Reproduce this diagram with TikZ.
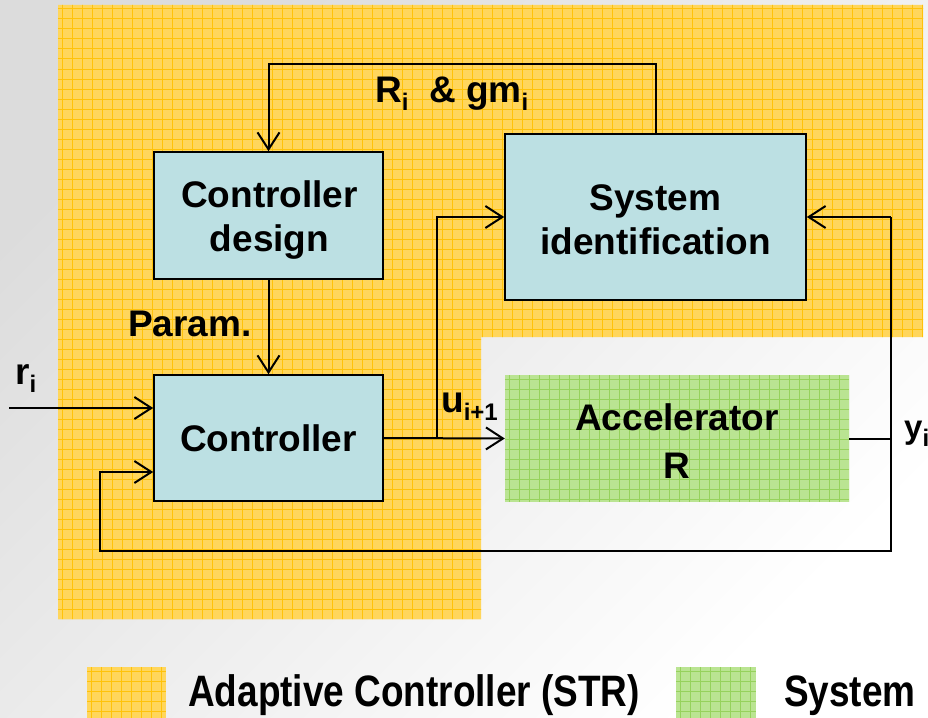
\documentclass[tikz,border=0pt]{standalone}
\usepackage{fontspec}
\setmainfont{Liberation Sans}
\usetikzlibrary{arrows.meta,calc}
\definecolor{ybase}{RGB}{255,214,92}
\definecolor{yline}{RGB}{255,194,10}
\definecolor{gbase}{RGB}{186,228,146}
\definecolor{gline}{RGB}{150,210,92}
\definecolor{boxblue}{RGB}{188,224,227}
\definecolor{bgdark}{RGB}{220,220,220}
\newcommand{\sbs}[1]{\raisebox{-8pt}{\fontsize{24}{24}\selectfont #1}}
\begin{document}
\begin{tikzpicture}[x=1pt,y=-1pt,
  bigfont/.style={font=\bfseries\fontsize{37}{44}\selectfont},
  blockbox/.style={draw=black, line width=1.6pt, fill=boxblue, inner sep=0pt},
  boxtext/.style={bigfont, align=center, inner sep=0pt},
  gpat/.style={path picture={
      \foreach \k in {0,...,40}{
        \draw[gline,line width=1pt] ([xshift=\k*10pt+4pt]path picture bounding box.north west) -- ([xshift=\k*10pt+4pt]path picture bounding box.south west);
        \draw[gline,line width=1pt] ([yshift=-\k*10pt-4pt]path picture bounding box.north west) -- ([yshift=-\k*10pt-4pt]path picture bounding box.north east);}}},
  ypat/.style={path picture={
      \foreach \k in {0,...,20}{
        \draw[yline,line width=1pt] ([xshift=\k*10pt+4pt]path picture bounding box.north west) -- ([xshift=\k*10pt+4pt]path picture bounding box.south west);
        \draw[yline,line width=1pt] ([yshift=-\k*10pt-4pt]path picture bounding box.north west) -- ([yshift=-\k*10pt-4pt]path picture bounding box.north east);}}},
  accbox/.style={fill=gbase, gpat, inner sep=0pt},
  lbl/.style={bigfont, inner sep=0pt},
  legtext/.style={font=\bfseries\fontsize{44}{48}\selectfont, inner sep=0pt},
  conn/.style={line width=2pt, draw=black},
  arr/.style={conn, -{Straight Barb[length=17pt,width=22pt]}}]

% background
\shade[top color=bgdark, bottom color=white, shading angle=45] (0,0) rectangle (928,717);
\useasboundingbox (0,0) rectangle (928,717);

% adaptive controller region (yellow, patterned)
\begin{scope}
  \clip (58,5) -- (923,5) -- (923,337) -- (481,337) -- (481,619) -- (58,619) -- cycle;
  \fill[ybase] (0,0) rectangle (928,717);
  \foreach \k in {0,...,87}{
    \draw[yline,line width=1pt] ({62+\k*10},0) -- ({62+\k*10},640);}
  \foreach \k in {0,...,63}{
    \draw[yline,line width=1pt] (40,{9+\k*10}) -- (928,{9+\k*10});}
\end{scope}

% blocks
\node[blockbox, minimum width=229pt, minimum height=127pt] (cdesign) at (268.5,215.5) {};
\node[blockbox, minimum width=301pt, minimum height=166pt] (sysid) at (655.5,217) {};
\node[blockbox, minimum width=229pt, minimum height=126pt] (ctrl) at (268.5,438) {};
\node[accbox, minimum width=344pt, minimum height=127pt] (accel) at (677,438.5) {};

% block texts
\node[boxtext] (cdesignt) at (269.5,220.5) {Controller\\design};
\node[boxtext] (sysidt) at (655.5,219.5) {System\\identification};
\node[boxtext] (ctrlt) at (268.5,438) {Controller};
\node[boxtext, font=\bfseries\fontsize{37}{48}\selectfont] (accelt) at (677,441) {Accelerator\\R};

% coordinates
\coordinate (toplft) at (268.5,64);
\coordinate (rin) at (9,408);
\coordinate (br) at (437,438);
\coordinate (fbx) at (891,217);
\coordinate (fbbr) at (891,551);
\coordinate (fbbl) at (100,551);

% connectors
\draw[arr] (sysid.north) |- (toplft) -- (cdesign.north);
\draw[arr] (cdesign.south) -- (ctrl.north);
\draw[arr] (rin) -- ([yshift=30pt]ctrl.west);
\draw[arr] (ctrl.east) -- (accel.west);
\draw[arr] (br) |- (sysid.west);
\draw[conn] (accel.east) -- (accel.east -| fbx);
\draw[arr] (fbx) -- (sysid.east);
\draw[arr] (fbx) -- (fbbr) -- (fbbl) |- ([yshift=-34pt]ctrl.west);

% labels
\node[lbl, anchor=base west] (lrg) at (375,102) {R\sbs{i}\ \ \& gm\sbs{i}};
\node[lbl, anchor=base west] (lparam) at (128,336) {Param.};
\node[lbl, anchor=base west] (lr) at (15,384) {r\sbs{i}};
\node[lbl, anchor=base west] (lu) at (441,412) {u\sbs{i+1}};
\node[lbl, anchor=base west, font=\bfseries\fontsize{33}{40}\selectfont] (ly) at (904,438) {y\sbs{i}};

% legend
\node[fill=ybase, ypat, minimum width=79pt, minimum height=52pt, inner sep=0pt, anchor=north west] (legy) at (87,667) {};
\node[fill=gbase, gpat, minimum width=80pt, minimum height=52pt, inner sep=0pt, anchor=north west] (legg) at (676,667) {};
\node[legtext, anchor=base west] (legyt) at (188,706) {\scalebox{0.84}[1]{Adaptive Controller (STR)}};
\node[legtext, anchor=base west] (leggt) at (784,706) {\scalebox{0.84}[1]{System}};
\end{tikzpicture}
\end{document}
